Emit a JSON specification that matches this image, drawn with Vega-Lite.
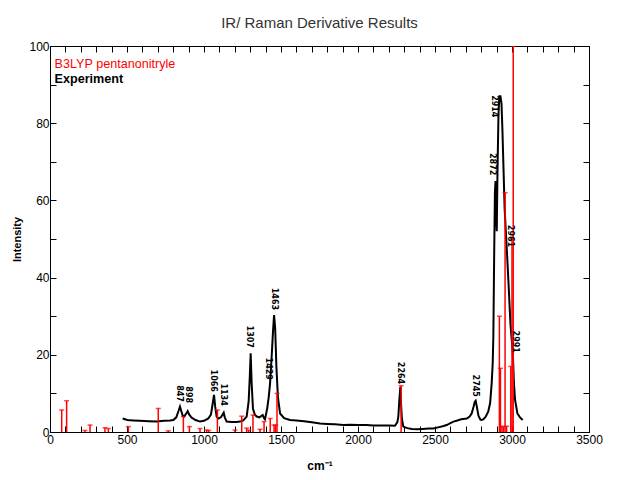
{
  "$schema": "https://vega.github.io/schema/vega-lite/v6.json",
  "width": 539,
  "height": 386,
  "autosize": {"type": "none"},
  "padding": {"left": 50, "top": 46, "right": 51, "bottom": 48},
  "background": "white",
  "title": {"text": "IR/ Raman Derivative Results", "font": "Liberation Sans", "fontSize": 15, "fontWeight": "normal", "color": "#333333", "anchor": "middle", "offset": 9},
  "config": {
    "view": {"stroke": "black", "strokeWidth": 1},
    "axis": {"domainColor": "black", "tickColor": "black", "grid": false, "labelFont": "Liberation Sans", "labelFontSize": 12, "labelColor": "black", "titleFont": "Liberation Sans", "titleFontSize": 12, "titleFontWeight": "bold", "titleColor": "black"}
  },
  "datasets": {
    "exp": [
      {"wn": 472, "I": 3.5}, {"wn": 502, "I": 3.1}, {"wn": 540, "I": 3.0}, {"wn": 584, "I": 2.9}, {"wn": 640, "I": 2.8}, {"wn": 693, "I": 2.7}, {"wn": 740, "I": 2.9}, {"wn": 780, "I": 3.0}, {"wn": 801, "I": 3.1}, {"wn": 820, "I": 3.8}, {"wn": 835, "I": 5.5}, {"wn": 844, "I": 6.6}, {"wn": 852, "I": 5.5}, {"wn": 862, "I": 4.2}, {"wn": 870, "I": 4.0}, {"wn": 882, "I": 4.6}, {"wn": 894, "I": 5.4}, {"wn": 904, "I": 4.5}, {"wn": 920, "I": 3.7}, {"wn": 945, "I": 3.1}, {"wn": 974, "I": 2.7}, {"wn": 1000, "I": 2.9}, {"wn": 1028, "I": 3.5}, {"wn": 1045, "I": 4.5}, {"wn": 1055, "I": 7.0}, {"wn": 1065, "I": 9.6}, {"wn": 1073, "I": 6.5}, {"wn": 1082, "I": 4.0}, {"wn": 1093, "I": 3.5}, {"wn": 1110, "I": 3.8}, {"wn": 1122, "I": 4.6}, {"wn": 1128, "I": 5.0}, {"wn": 1135, "I": 3.8}, {"wn": 1147, "I": 2.7}, {"wn": 1180, "I": 2.6}, {"wn": 1210, "I": 2.6}, {"wn": 1234, "I": 2.7}, {"wn": 1255, "I": 3.0}, {"wn": 1277, "I": 4.0}, {"wn": 1290, "I": 8.0}, {"wn": 1297, "I": 14.0}, {"wn": 1303, "I": 20.4}, {"wn": 1309, "I": 13.0}, {"wn": 1318, "I": 6.0}, {"wn": 1330, "I": 4.5}, {"wn": 1342, "I": 4.0}, {"wn": 1360, "I": 3.8}, {"wn": 1374, "I": 4.2}, {"wn": 1381, "I": 4.4}, {"wn": 1390, "I": 3.6}, {"wn": 1396, "I": 3.3}, {"wn": 1410, "I": 6.0}, {"wn": 1420, "I": 9.0}, {"wn": 1429, "I": 12.6}, {"wn": 1440, "I": 20.0}, {"wn": 1448, "I": 26.0}, {"wn": 1455, "I": 30.3}, {"wn": 1462, "I": 27.0}, {"wn": 1470, "I": 17.0}, {"wn": 1480, "I": 9.0}, {"wn": 1494, "I": 4.8}, {"wn": 1520, "I": 3.6}, {"wn": 1558, "I": 3.1}, {"wn": 1600, "I": 3.0}, {"wn": 1650, "I": 2.8}, {"wn": 1700, "I": 2.5}, {"wn": 1753, "I": 2.2}, {"wn": 1800, "I": 2.1}, {"wn": 1850, "I": 2.0}, {"wn": 1905, "I": 1.8}, {"wn": 1950, "I": 1.9}, {"wn": 2000, "I": 1.8}, {"wn": 2056, "I": 1.8}, {"wn": 2100, "I": 1.7}, {"wn": 2150, "I": 1.7}, {"wn": 2200, "I": 1.7}, {"wn": 2240, "I": 1.6}, {"wn": 2255, "I": 2.5}, {"wn": 2262, "I": 4.0}, {"wn": 2268, "I": 8.0}, {"wn": 2275, "I": 11.7}, {"wn": 2280, "I": 7.0}, {"wn": 2285, "I": 3.5}, {"wn": 2294, "I": 1.4}, {"wn": 2320, "I": 1.0}, {"wn": 2350, "I": 0.8}, {"wn": 2381, "I": 0.7}, {"wn": 2420, "I": 0.8}, {"wn": 2460, "I": 0.9}, {"wn": 2489, "I": 0.9}, {"wn": 2520, "I": 1.2}, {"wn": 2550, "I": 1.5}, {"wn": 2576, "I": 1.8}, {"wn": 2600, "I": 2.3}, {"wn": 2620, "I": 2.7}, {"wn": 2640, "I": 2.9}, {"wn": 2670, "I": 3.3}, {"wn": 2706, "I": 3.5}, {"wn": 2725, "I": 4.0}, {"wn": 2738, "I": 4.8}, {"wn": 2750, "I": 6.5}, {"wn": 2758, "I": 7.8}, {"wn": 2764, "I": 8.1}, {"wn": 2772, "I": 6.5}, {"wn": 2782, "I": 4.2}, {"wn": 2795, "I": 3.2}, {"wn": 2803, "I": 3.1}, {"wn": 2815, "I": 3.3}, {"wn": 2830, "I": 4.0}, {"wn": 2846, "I": 5.3}, {"wn": 2858, "I": 7.5}, {"wn": 2868, "I": 12.6}, {"wn": 2875, "I": 18}, {"wn": 2879, "I": 25}, {"wn": 2884, "I": 45}, {"wn": 2889, "I": 62}, {"wn": 2893, "I": 65}, {"wn": 2897, "I": 56}, {"wn": 2901, "I": 52}, {"wn": 2906, "I": 68}, {"wn": 2912, "I": 82}, {"wn": 2918, "I": 87}, {"wn": 2925, "I": 87}, {"wn": 2932, "I": 85}, {"wn": 2938, "I": 78}, {"wn": 2945, "I": 68}, {"wn": 2952, "I": 58}, {"wn": 2960, "I": 52}, {"wn": 2968, "I": 46}, {"wn": 2978, "I": 38}, {"wn": 2990, "I": 28}, {"wn": 3000, "I": 23}, {"wn": 3006, "I": 20}, {"wn": 3012, "I": 13}, {"wn": 3020, "I": 8.3}, {"wn": 3035, "I": 4.8}, {"wn": 3052, "I": 3.8}, {"wn": 3069, "I": 3.1}
    ],
    "calc": [
      {"wn": 76, "h": 5.7}, {"wn": 108, "h": 8.1}, {"wn": 227, "h": 0.4}, {"wn": 260, "h": 1.8}, {"wn": 357, "h": 1.1}, {"wn": 379, "h": 0.9}, {"wn": 509, "h": 1.4}, {"wn": 703, "h": 6.1}, {"wn": 768, "h": 0.3}, {"wn": 866, "h": 4.0}, {"wn": 905, "h": 1.4}, {"wn": 974, "h": 0.9}, {"wn": 1017, "h": 0.5}, {"wn": 1030, "h": 0.4}, {"wn": 1087, "h": 5.7}, {"wn": 1201, "h": 0.5}, {"wn": 1245, "h": 4.1}, {"wn": 1277, "h": 1.0}, {"wn": 1290, "h": 0.5}, {"wn": 1318, "h": 4.4}, {"wn": 1364, "h": 0.7}, {"wn": 1390, "h": 2.7}, {"wn": 1430, "h": 3.5}, {"wn": 1455, "h": 1.8}, {"wn": 1465, "h": 1.8}, {"wn": 1474, "h": 10.0}, {"wn": 2280, "h": 12.0}, {"wn": 2918, "h": 30}, {"wn": 2925, "h": 16.5}, {"wn": 2935, "h": 1.5}, {"wn": 2945, "h": 1.3}, {"wn": 2955, "h": 62}, {"wn": 2965, "h": 1.5}, {"wn": 2992, "h": 17}, {"wn": 3000, "h": 50}, {"wn": 3008, "h": 100}
    ],
    "peaks": [
      {"wn": 840, "y": 7.8, "label": "847"}, {"wn": 893, "y": 7.5, "label": "898"}, {"wn": 1061, "y": 10.4, "label": "1066"}, {"wn": 1125, "y": 6.8, "label": "1134"}, {"wn": 1290, "y": 21.8, "label": "1307"}, {"wn": 1418, "y": 13.5, "label": "1429"}, {"wn": 1452, "y": 31.6, "label": "1463"}, {"wn": 2270, "y": 12.4, "label": "2264"}, {"wn": 2760, "y": 9.1, "label": "2745"}, {"wn": 2868, "y": 66.5, "label": "2872"}, {"wn": 2880, "y": 81.5, "label": "2914"}, {"wn": 2985, "y": 47.9, "label": "2961"}, {"wn": 3018, "y": 20.5, "label": "2991"}
    ]
  },
  "layer": [
    {
      "data": {"name": "exp"},
      "mark": {"type": "line", "strokeWidth": 2, "clip": true},
      "encoding": {
        "x": {"field": "wn", "type": "quantitative", "scale": {"domain": [0, 3500], "nice": false, "zero": false},
          "axis": {"orient": "bottom", "values": [0,100,200,300,400,500,600,700,800,900,1000,1100,1200,1300,1400,1500,1600,1700,1800,1900,2000,2100,2200,2300,2400,2500,2600,2700,2800,2900,3000,3100,3200,3300,3400,3500], "labelExpr": "datum.value % 500 === 0 ? datum.label : ''", "format": "d", "labelOverlap": false, "labelFlush": false, "labelBound": false, "ticks": true, "tickSize": -6, "tickWidth": 1, "title": "cm⁻¹", "titlePadding": 15, "labelPadding": 8}},
        "y": {"field": "I", "type": "quantitative", "scale": {"domain": [0, 100], "nice": false},
          "axis": {"orient": "left", "values": [0,10,20,30,40,50,60,70,80,90,100], "labelExpr": "datum.value % 20 === 0 ? datum.label : ''", "labelOverlap": false, "labelFlush": false, "labelBound": false, "ticks": true, "tickSize": -6, "tickWidth": 1, "title": "Intensity", "titleFontSize": 11, "labelPadding": 7, "titlePadding": 6}},
        "color": {"datum": "Experiment", "type": "nominal", "scale": {"domain": ["B3LYP pentanonitryle", "Experiment"], "range": ["#ff0000", "#000000"]},
          "legend": {"orient": "none", "legendX": -8, "legendY": 12, "title": null, "symbolSize": 0, "symbolStrokeWidth": 0, "symbolOpacity": 0, "labelOffset": 0, "labelFont": "Liberation Sans", "labelFontSize": 12.6, "rowPadding": 1.5, "padding": 0, "labelLimit": 300,
            "encode": {"labels": {"update": {"fill": {"signal": "datum.label === 'Experiment' ? '#000000' : '#ff0000'"}, "fontWeight": {"signal": "datum.label === 'Experiment' ? 'bold' : 'normal'"}}}}}}
      }
    },
    {
      "data": {"name": "calc"},
      "mark": {"type": "rule", "strokeWidth": 1.5, "clip": true},
      "encoding": {
        "x": {"field": "wn", "type": "quantitative",
          "axis": {"orient": "top", "values": [0,100,200,300,400,500,600,700,800,900,1000,1100,1200,1300,1400,1500,1600,1700,1800,1900,2000,2100,2200,2300,2400,2500,2600,2700,2800,2900,3000,3100,3200,3300,3400,3500], "labels": false, "ticks": true, "tickSize": -6, "title": null}},
        "y": {"field": "h", "type": "quantitative",
          "axis": {"orient": "right", "values": [0,10,20,30,40,50,60,70,80,90,100], "labels": false, "ticks": true, "tickSize": -6, "title": null}},
        "y2": {"datum": 0},
        "color": {"datum": "B3LYP pentanonitryle", "type": "nominal"}
      }
    },
    {
      "data": {"name": "calc"},
      "mark": {"type": "tick", "orient": "horizontal", "size": 5, "thickness": 1.5, "clip": true},
      "encoding": {
        "x": {"field": "wn", "type": "quantitative", "axis": null},
        "y": {"field": "h", "type": "quantitative", "axis": null},
        "color": {"datum": "B3LYP pentanonitryle", "type": "nominal"}
      }
    },
    {
      "data": {"name": "peaks"},
      "mark": {"type": "text", "angle": 90, "font": "DejaVu Sans", "fontSize": 8, "fontWeight": "bold", "color": "black", "align": "right", "baseline": "middle"},
      "encoding": {
        "x": {"field": "wn", "type": "quantitative", "axis": null},
        "y": {"field": "y", "type": "quantitative", "axis": null},
        "text": {"field": "label"}
      }
    }
  ],
  "resolve": {"axis": {"x": "independent", "y": "independent"}}
}
